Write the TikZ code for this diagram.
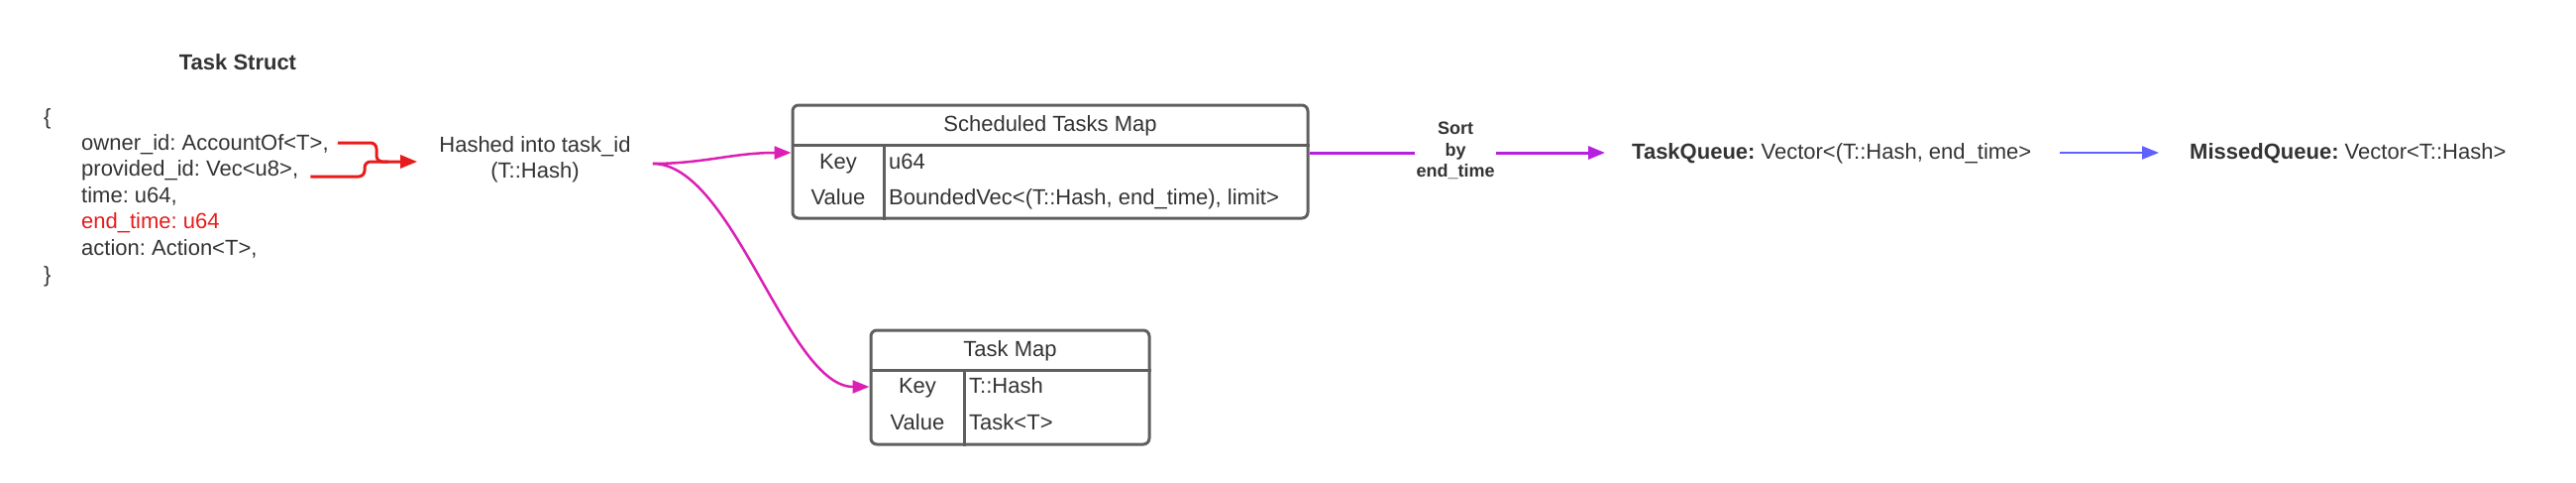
\documentclass[tikz,border=0pt]{standalone}
\usepackage{fontspec}
\setmainfont{Liberation Sans}
\usetikzlibrary{arrows.meta}
\definecolor{txtc}{HTML}{333333}
\definecolor{boxc}{HTML}{5F5F5F}
\definecolor{redc}{HTML}{E81B1B}
\definecolor{magc}{HTML}{DB1FB5}
\definecolor{purc}{HTML}{B620E0}
\definecolor{bluc}{HTML}{6060FF}
\frenchspacing
\begin{document}
\begin{tikzpicture}[x=1pt,y=-1pt,
  lbl/.style={font=\fontsize{22}{26.6}\selectfont, text=txtc, inner sep=0pt, text height=15.8pt, text depth=0pt},
  multi/.style={font=\fontsize{22}{26.6}\selectfont, text=txtc, inner sep=0pt, align=center},
  boxnode/.style={draw=boxc, line width=3pt, rounded corners=6pt, inner sep=0pt},
  divider/.style={draw=boxc, line width=3pt},
  tip/.style={-{Triangle[length=17pt,width=13pt]}},
  redl/.style={draw=redc, line width=3pt, rounded corners=6pt},
  magl/.style={draw=magc, line width=2.5pt, tip},
  purl/.style={draw=purc, line width=3pt},
  blul/.style={draw=bluc, line width=2.2pt, tip}]
\useasboundingbox (0,0) rectangle (2600,487);

% Task struct
\node[lbl, font=\fontsize{22}{26.6}\selectfont\bfseries] (title) at (240,63) {Task Struct};
\node[lbl, anchor=west] (ob) at (44,118) {\{};
\node[lbl, anchor=west] (s1) at (82,144) {owner\_id: AccountOf<T>,};
\node[lbl, anchor=west] (s2) at (82,170) {provided\_id: Vec<u8>,};
\node[lbl, anchor=west] (s3) at (82,197) {time: u64,};
\node[lbl, anchor=west, text=redc] (s4) at (82,223) {end\_time: u64};
\node[lbl, anchor=west] (s5) at (82,250) {action: Action<T>,};
\node[lbl, anchor=west] (cb) at (44,277) {\}};

% Hashed node
\node[multi, inner xsep=22pt] (hashed) at (540,161) {Hashed into task\_id\\(T::Hash)};

% red connectors
\coordinate (r1) at ([xshift=9pt]s1.east);
\coordinate (r2) at ([xshift=12pt]s2.east);
\draw[redl] (r1) -- (380,144) -- (380,163) -- (392,163);
\draw[redl, tip] (r2 |- 0,178) -- (368,178) -- (368,163) -- (hashed.west |- 0,163);

% Scheduled Tasks Map
\node[boxnode, minimum width=520pt, minimum height=114pt] (sched) at (1060,163) {};
\draw[divider] (sched.west |- 0,146) -- (sched.east |- 0,146);
\draw[divider] (892,146) -- (sched.south -| 892,0);
\node[lbl] (schedh) at (1060,125) {Scheduled Tasks Map};
\node[lbl] (schedk) at (846,163) {Key};
\node[lbl] (schedv) at (846,199) {Value};
\node[lbl, anchor=west] (schedkt) at (897,163) {u64};
\node[lbl, anchor=west] (schedvt) at (897,199) {BoundedVec<(T::Hash, end\_time), limit>};

% Task Map
\node[boxnode, minimum width=281pt, minimum height=115pt] (taskm) at (1019.5,390.5) {};
\draw[divider] (taskm.west |- 0,373) -- (taskm.east |- 0,373);
\draw[divider] (973,373) -- (taskm.south -| 973,0);
\node[lbl] (taskh) at (1019.5,352) {Task Map};
\node[lbl] (taskk) at (926,389) {Key};
\node[lbl] (taskv) at (926,426) {Value};
\node[lbl, anchor=west] (taskkt) at (978,389) {T::Hash};
\node[lbl, anchor=west] (taskvt) at (978,426) {Task<T>};

% magenta connectors
\draw[magl] ([yshift=-4pt]hashed.east) .. controls (710,165) and (740,154) .. (sched.west |- 0,154);
\draw[magl] ([yshift=-4pt]hashed.east) .. controls (740,165) and (795,390) .. (taskm.west |- 0,390);

% Sort label and queues
\node[font=\fontsize{18}{21.5}\selectfont\bfseries, text=txtc, align=center, inner sep=1pt] (sortl) at (1469,152) {Sort\\by\\end\_time};
\node[lbl, anchor=west] (tq) at (1647,153) {\textbf{TaskQueue:} Vector<(T::Hash, end\_time>};
\node[lbl, anchor=west] (mq) at (2210,153) {\textbf{MissedQueue:} Vector<T::Hash>};

\draw[purl] (sched.east |- 0,154) -- (sortl.west |- 0,154);
\draw[purl, tip] (sortl.east |- 0,154) -- ([xshift=-27pt]tq.west |- 0,154);
\draw[blul] ([xshift=28pt]tq.east |- 0,154) -- ([xshift=-31pt]mq.west |- 0,154);
\end{tikzpicture}
\end{document}
